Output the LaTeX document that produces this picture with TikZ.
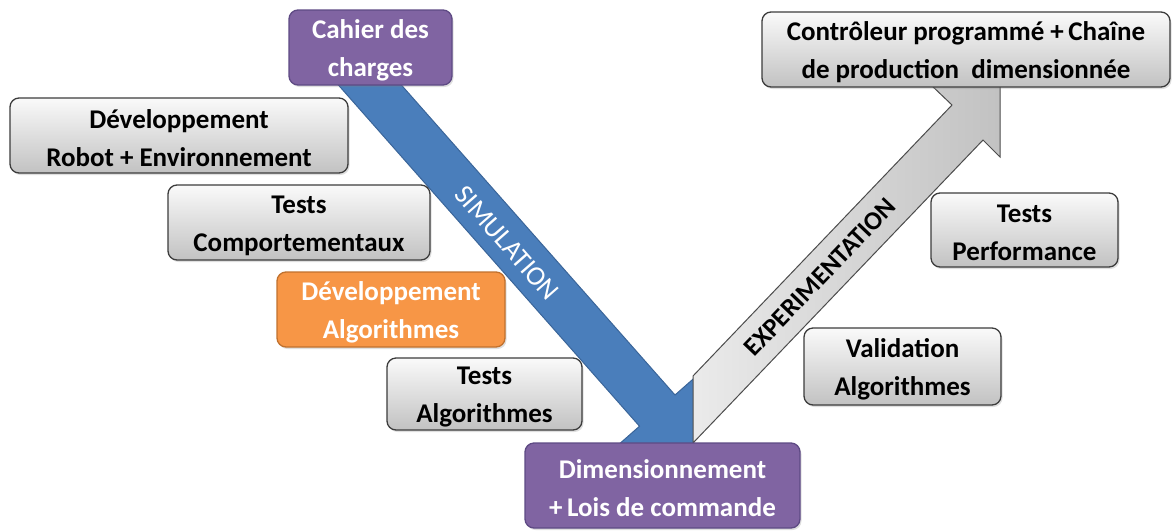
\documentclass[tikz,border=0pt]{standalone}
\usepackage{fontspec}
\setmainfont{Carlito}
\usetikzlibrary{shadows}
\definecolor{simblue}{HTML}{4A7EBB}
\definecolor{simline}{HTML}{3A6599}
\definecolor{purp}{HTML}{8064A2}
\definecolor{purpline}{HTML}{5E4A84}
\definecolor{orng}{HTML}{F79646}
\definecolor{orngline}{HTML}{C0712E}
\definecolor{boxline}{HTML}{3C3C3C}
\begin{document}
\begin{tikzpicture}[x=1pt,y=-1pt,
  basebox/.style={line width=1.3pt, rounded corners=9pt, inner sep=0pt,
    drop shadow={shadow xshift=1.5pt, shadow yshift=-2pt, opacity=0.25}},
  graybox/.style={basebox, draw=boxline, top color=black!2, bottom color=black!24},
  purplebox/.style={basebox, draw=purpline, fill=purp},
  orangebox/.style={basebox, draw=orngline, fill=orng},
  boxtext/.style={align=center, inner sep=0pt, font=\fontsize{27}{38}\selectfont\bfseries},
  phase/.style={inner sep=0pt},
]
\useasboundingbox (0,0) rectangle (1175,531);

% SIMULATION arrow (descending branch of the V)
\fill[simblue, draw=simline, line width=1pt, line join=miter]
  (316.3,60) -- (639.5,426.2) -- (618.5,444.7) -- (693.5,451.9)
  -- (696,376.5) -- (675,395) -- (379.3,60) -- cycle;

% EXPERIMENTATION arrow (ascending branch of the V)
\draw[draw=black!70, line width=1pt, left color=black!8, right color=black!24, line join=miter]
  (693,443) -- (693,376) -- (952,105) -- (930,84) -- (1000,80)
  -- (1000,157) -- (983,140) -- cycle;

\node[phase, text=white, rotate=-48.7, font=\fontsize{27.5}{30}\selectfont] (sim) at (507,243) {SIMULATION};
\node[phase, text=black, rotate=46.3, font=\fontsize{26}{30}\selectfont\bfseries] (exp) at (820,277) {EXPERIMENTATION};

% Stage boxes
\node[purplebox, minimum width=163pt, minimum height=75pt] (cdc) at (370.5,47.5) {};
\node[graybox, minimum width=338pt, minimum height=75pt] (devrob) at (179,135.5) {};
\node[graybox, minimum width=262pt, minimum height=75pt] (tcomp) at (299,222.5) {};
\node[orangebox, minimum width=228pt, minimum height=75pt] (devalg) at (391,309.5) {};
\node[graybox, minimum width=195pt, minimum height=72pt] (talg) at (484.5,394) {};
\node[purplebox, minimum width=275pt, minimum height=85pt] (dim) at (662.5,485.5) {};
\node[graybox, minimum width=197pt, minimum height=77pt] (valid) at (902.5,366.5) {};
\node[graybox, minimum width=187pt, minimum height=74pt] (tperf) at (1024.5,230) {};
\node[graybox, minimum width=408pt, minimum height=75pt] (ctrl) at (966,49.5) {};

% Stage labels, set a little below the box centres
\node[boxtext, text=white] (cdc-t) at ([yshift=-3pt]cdc.center) {Cahier des\\charges};
\node[boxtext] (devrob-t) at ([yshift=-3pt]devrob.center) {Développement\\Robot + Environnement};
\node[boxtext] (tcomp-t) at ([yshift=-3pt]tcomp.center) {Tests\\Comportementaux};
\node[boxtext, text=white] (devalg-t) at ([yshift=-3pt]devalg.center) {Développement\\Algorithmes};
\node[boxtext] (talg-t) at ([yshift=-3pt]talg.center) {Tests\\Algorithmes};
\node[boxtext, text=white] (dim-t) at ([yshift=-3pt]dim.center) {Dimensionnement\\+\,Lois de commande};
\node[boxtext] (valid-t) at ([yshift=-3pt]valid.center) {Validation\\Algorithmes};
\node[boxtext] (tperf-t) at ([yshift=-3pt]tperf.center) {Tests\\Performance};
\node[boxtext] (ctrl-t) at ([yshift=-3pt]ctrl.center) {Contrôleur programmé +\,Chaîne\\de production\ \ dimensionnée};
\end{tikzpicture}
\end{document}
